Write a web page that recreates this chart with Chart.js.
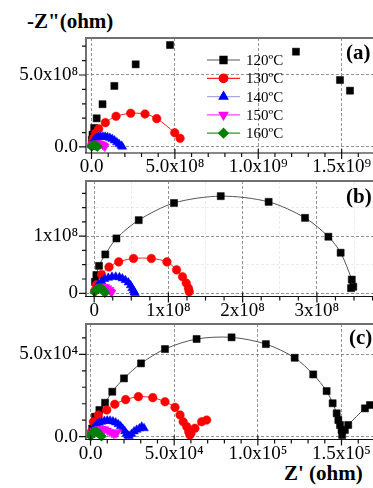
<!DOCTYPE html>
<html>
<head>
<meta charset="utf-8">
<script src="https://cdn.jsdelivr.net/npm/chart.js@4.4.1/dist/chart.umd.min.js"></script>
<style>
html, body { margin: 0; padding: 0; background: #fff; }
body { width: 373px; height: 488px; overflow: hidden; position: relative; font-family: 'Liberation Serif', 'Times New Roman', serif; }
canvas { position: absolute; left: 0; }
.txt { position: absolute; font-weight: bold; color: #000; white-space: nowrap; line-height: 1; }
</style>
</head>
<body>
<div class="txt" style="left:27px;top:11px;font-size:21px;">-Z"(ohm)</div>
<div class="txt" style="left:284px;top:463px;font-size:21px;">Z' (ohm)</div>
<canvas id="chartA" width="410" height="150" style="top:28px"></canvas>
<canvas id="chartB" width="410" height="150" style="top:172px"></canvas>
<canvas id="chartC" width="410" height="150" style="top:316px"></canvas>
<div class="txt" style="left:346px;top:42px;font-size:21px;">(a)</div>
<div class="txt" style="left:346px;top:186px;font-size:21px;">(b)</div>
<div class="txt" style="left:349px;top:327px;font-size:21px;">(c)</div>
<script>
// 시리즈 공통
const SERIES_LABELS = ['120ºC', '130ºC', '140ºC', '150ºC', '160ºC'];

// (a) 단위 1e8 ohm
const a120 = [[0.02,0.50],[0.06,0.85],[0.16,1.32],[0.31,1.99],[0.66,2.97],[1.37,4.24],[2.65,5.74],[4.71,7.08],[12.26,6.62],[14.9,4.65],[15.5,3.91]];
const a130 = [[0.02,0.12],[0.06,0.35],[0.12,0.62],[0.24,0.95],[0.43,1.27],[0.83,1.69],[1.47,2.13],[2.35,2.34],[3.21,2.29],[3.91,1.97],[4.99,0.99],[5.31,0.60]];
const a140 = [[0.02,0.10],[0.06,0.28],[0.12,0.42],[0.2,0.53],[0.3,0.62],[0.42,0.68],[0.55,0.71],[0.68,0.72],[0.82,0.71],[0.96,0.68],[1.1,0.63],[1.24,0.55],[1.38,0.45],[1.52,0.32],[1.65,0.2],[1.78,0.08],[1.85,0.02]];
const a150 = [[0.02,0.05],[0.08,0.14],[0.16,0.2],[0.26,0.24],[0.36,0.25],[0.46,0.24],[0.56,0.21],[0.66,0.15],[0.74,0.08],[0.8,0.02]];
const a160 = [[0.01,0.03],[0.05,0.08],[0.1,0.11],[0.16,0.12],[0.22,0.11],[0.28,0.08],[0.33,0.04],[0.36,0.01]];
const aXTicks = [0,1,2,3,4,5,6,7,8,9,10,11,12,13,14,15,16,17];
const aXMajor = [0, 5, 10, 15];
const aXLabels = ['0.0', '5.0x10⁸', '1.0x10⁹', '1.5x10⁹'];
const aYTicks = [0,1,2,3,4,5,6,7];
const aYMajor = [0, 5];
const aYLabels = ['0.0', '5.0x10⁸'];

// (b) 단위 1e8 ohm
const b120 = [[0.01,0.2],[0.03,0.32],[0.065,0.48],[0.15,0.68],[0.30,0.96],[0.60,1.28],[1.075,1.58],[1.705,1.70],[2.35,1.60],[2.84,1.32],[3.155,0.99],[3.32,0.71],[3.47,0.24],[3.49,0.115],[3.46,0.09]];
const b130 = [[0.01,0.05],[0.03,0.15],[0.1,0.33],[0.2,0.46],[0.33,0.55],[0.53,0.61],[0.77,0.61],[0.98,0.55],[1.11,0.41],[1.19,0.29],[1.24,0.18],[1.27,0.09],[1.28,0.03]];
const b140 = [[0.01,0.04],[0.03,0.1],[0.06,0.16],[0.1,0.21],[0.14,0.25],[0.19,0.27],[0.24,0.29],[0.29,0.29],[0.34,0.28],[0.38,0.26],[0.42,0.23],[0.46,0.19],[0.49,0.14],[0.51,0.09],[0.53,0.05],[0.54,0.02],[0.55,0.005]];
const b150 = [[0.01,0.02],[0.03,0.06],[0.06,0.09],[0.09,0.11],[0.12,0.115],[0.15,0.11],[0.18,0.09],[0.21,0.06],[0.225,0.03],[0.235,0.01]];
const b160 = [[0.005,0.02],[0.02,0.05],[0.04,0.075],[0.065,0.09],[0.09,0.085],[0.11,0.07],[0.13,0.045],[0.14,0.02],[0.145,0.005]];
const bXTicks = [0,0.25,0.5,0.75,1,1.25,1.5,1.75,2,2.25,2.5,2.75,3,3.25,3.5,3.75];
const bXMajor = [0, 1, 2, 3];
const bXLabels = ['0', '1x10⁸', '2x10⁸', '3x10⁸'];
const bYTicks = [0,0.25,0.5,0.75,1,1.25,1.5,1.75];
const bYMajor = [0, 1];
const bYLabels = ['0', '1x10⁸'];

// (c) 단위 1e4 ohm
const c120 = [[0.1,0.5],[0.27,1.21],[0.53,1.62],[0.87,2.06],[1.30,2.73],[2.0,3.54],[3.02,4.45],[4.45,5.32],[6.34,5.93],[8.43,6.03],[10.48,5.62],[12.2,4.79],[13.31,3.78],[14.11,2.77],[14.47,2.03],[14.71,1.42],[14.81,1.01],[14.91,0.71],[15.0,0.41],[15.04,0.1],[15.2,0.41],[15.4,0.71],[16.4,1.72],[16.7,1.92]];
const c130 = [[0.05,0.3],[0.17,0.91],[0.47,1.32],[0.97,1.62],[1.45,1.97],[2.1,2.25],[2.86,2.43],[3.72,2.37],[4.45,2.12],[5.05,1.78],[5.35,1.32],[5.54,0.91],[5.75,0.61],[5.87,0.30],[5.94,0.10],[6.0,0.2],[6.24,0.51],[6.64,0.91],[6.94,1.01]];
const c140 = [[0.02,0.1],[0.08,0.3],[0.16,0.48],[0.26,0.62],[0.38,0.74],[0.52,0.84],[0.67,0.91],[0.83,0.96],[1.0,0.98],[1.17,0.97],[1.34,0.93],[1.5,0.86],[1.66,0.76],[1.8,0.63],[1.93,0.48],[2.05,0.33],[2.15,0.18],[2.24,0.07],[2.3,0.05],[2.45,0.17],[2.6,0.32],[2.76,0.42],[2.92,0.5],[3.06,0.61],[3.2,0.51]];
const c150 = [[0.02,0.05],[0.1,0.2],[0.22,0.33],[0.36,0.42],[0.52,0.47],[0.68,0.48],[0.84,0.45],[1.0,0.38],[1.14,0.3],[1.28,0.22],[1.4,0.17],[1.52,0.2],[1.6,0.27]];
const c160 = [[0.01,0.03],[0.05,0.12],[0.1,0.2],[0.17,0.26],[0.25,0.29],[0.33,0.29],[0.41,0.27],[0.49,0.21],[0.56,0.14],[0.62,0.07],[0.66,0.02]];
const cXTicks = [0,1,2,3,4,5,6,7,8,9,10,11,12,13,14,15,16,17];
const cXMajor = [0, 5, 10, 15];
const cXLabels = ['0.0', '5.0x10⁴', '1.0x10⁵', '1.5x10⁵'];
const cYTicks = [0,1,2,3,4,5,6];
const cYMajor = [0, 5];
const cYLabels = ['0.0', '5.0x10⁴'];

// 스타일
const FONT = "'Liberation Serif', 'Times New Roman', serif";
const MARK_COLORS = ['#000000', '#ff0000', '#0000ff', '#ff00ff', '#008000'];
const LINE_COLORS = ['#555555', '#ff2020', '#a8a8e0', '#ff40ff', '#2a9a2a'];
const POINT_STYLES = ['rect', 'circle', 'triangle', 'triangle', 'rectRot'];
const POINT_ROT = [0, 0, 0, 180, 0];
const POINT_RADII = [5, 4.3, 5, 5, 4.8];

const near = (a, b) => Math.abs(a - b) < 1e-9;
const isMajor = (v, majors) => majors.some(m => near(m, v));
const labelFor = (v, majors, labels) => {
    const i = majors.findIndex(m => near(m, v));
    return i < 0 ? '' : labels[i];
};
function gridColor(v, majors) {
    if (isMajor(v, majors)) return 'rgba(120,120,120,0.8)';
    const step = majors[1] - majors[0];
    const h = v / (step / 2);
    if (Math.abs(h - Math.round(h)) < 1e-6) return 'rgba(0,0,0,0.08)';
    return 'rgba(0,0,0,0)';
}

/**
 * 테두리 + 눈금선
 */
const framePlugin = {
    id: 'frame',
    afterDraw(chart, args, opts) {
        const { ctx, chartArea: a, scales: { x, y } } = chart;
        ctx.save();
        ctx.strokeStyle = '#707070';
        ctx.lineWidth = 2;
        ctx.beginPath();
        ctx.moveTo(a.left, a.bottom);
        ctx.lineTo(a.left, a.top);
        ctx.lineTo(a.right, a.top);
        ctx.lineTo(a.right, a.bottom);
        ctx.stroke();

        ctx.strokeStyle = '#111';
        ctx.lineWidth = 1.2;
        ctx.beginPath();
        ctx.moveTo(a.left - 1, a.bottom);
        ctx.lineTo(a.right, a.bottom);
        y.ticks.forEach(t => {
            const py = y.getPixelForValue(t.value);
            const len = isMajor(t.value, opts.yMajor) ? 7 : 4;
            ctx.moveTo(a.left - len, py);
            ctx.lineTo(a.left, py);
        });
        x.ticks.forEach(t => {
            const px = x.getPixelForValue(t.value);
            if (isMajor(t.value, opts.xMajor)) {
                ctx.moveTo(px, a.bottom - 4);
                ctx.lineTo(px, a.bottom + 6);
            } else {
                ctx.moveTo(px, a.bottom);
                ctx.lineTo(px, a.bottom + 4);
            }
        });
        ctx.stroke();
        ctx.restore();
    }
};

/**
 * 범례 (a 패널 안쪽)
 */
const legendPlugin = {
    id: 'seriesLegend',
    afterDatasetsDraw(chart, args, opts) {
        if (!opts.show) return;
        const ctx = chart.ctx;
        chart.data.datasets.forEach((ds, i) => {
            const yy = opts.y + i * opts.dy;
            ctx.save();
            ctx.strokeStyle = ds.borderColor;
            ctx.lineWidth = 1.2;
            ctx.beginPath();
            ctx.moveTo(opts.x0, yy);
            ctx.lineTo(opts.x1, yy);
            ctx.stroke();
            ctx.fillStyle = ds.pointBackgroundColor;
            ctx.strokeStyle = ds.pointBorderColor;
            Chart.helpers.drawPoint(ctx, {
                pointStyle: ds.pointStyle, rotation: ds.pointRotation,
                radius: ds.pointRadius, borderWidth: 0.5
            }, (opts.x0 + opts.x1) / 2, yy);
            ctx.fillStyle = '#000';
            ctx.font = `15px ${FONT}`;
            ctx.textBaseline = 'middle';
            ctx.fillText(ds.label, opts.tx, yy + 1);
            ctx.restore();
        });
    }
};

function buildPanel(id, p) {
    const datasets = p.series.map((pts, i) => ({
        label: SERIES_LABELS[i],
        data: pts.map(([x, y]) => ({ x, y })),
        showLine: p.lines[i],
        borderColor: LINE_COLORS[i],
        borderWidth: 1,
        tension: 0.3,
        pointStyle: POINT_STYLES[i],
        pointRotation: POINT_ROT[i],
        pointRadius: POINT_RADII[i],
        pointBackgroundColor: MARK_COLORS[i],
        pointBorderColor: MARK_COLORS[i],
        pointBorderWidth: 0.5,
        order: 5 - i,
        clip: false
    }));
    const tickFont = { family: FONT, size: 19 };
    return new Chart(document.getElementById(id), {
        type: 'scatter',
        data: { datasets },
        options: {
            responsive: false,
            animation: false,
            devicePixelRatio: 1,
            layout: { padding: { top: p.padTop, right: 30, left: 0, bottom: 0 } },
            plugins: {
                legend: { display: false },
                tooltip: { enabled: false },
                frame: { xMajor: p.xMajor, yMajor: p.yMajor },
                seriesLegend: p.legend || { show: false }
            },
            scales: {
                x: {
                    type: 'linear', min: p.xMin, max: p.xMax,
                    afterBuildTicks: s => { s.ticks = p.xTicks.map(v => ({ value: v })); },
                    afterFit: s => { s.height = p.xAxisH; s.paddingLeft = 0; s.paddingRight = 0; },
                    grid: { color: c => gridColor(c.tick.value, p.xMajor), drawTicks: false, lineWidth: 1 },
                    border: { display: false, dash: [3, 2] },
                    ticks: {
                        autoSkip: false, maxRotation: 0, padding: 3, color: '#000', font: tickFont,
                        callback: v => labelFor(v, p.xMajor, p.xLabels)
                    }
                },
                y: {
                    type: 'linear', min: p.yMin, max: p.yMax,
                    afterBuildTicks: s => { s.ticks = p.yTicks.map(v => ({ value: v })); },
                    afterFit: s => { s.width = 86; s.paddingTop = 0; s.paddingBottom = 0; },
                    grid: { color: c => gridColor(c.tick.value, p.yMajor), drawTicks: false, lineWidth: 1 },
                    border: { display: false, dash: [3, 2] },
                    ticks: {
                        autoSkip: false, padding: 8, color: '#000', font: tickFont,
                        callback: v => labelFor(v, p.yMajor, p.yLabels)
                    }
                }
            }
        },
        plugins: [framePlugin, legendPlugin]
    });
}

buildPanel('chartA', {
    series: [a120, a130, a140, a150, a160],
    lines: [false, true, true, true, true],
    xMin: -0.33, xMax: 17.3, yMin: -0.42, yMax: 7.57,
    xTicks: aXTicks, xMajor: aXMajor, xLabels: aXLabels,
    yTicks: aYTicks, yMajor: aYMajor, yLabels: aYLabels,
    padTop: 10, xAxisH: 25,
    legend: { show: true, x0: 207, x1: 240, tx: 246, y: 32, dy: 18.3 }
});

buildPanel('chartB', {
    series: [b120, b130, b140, b150, b160],
    lines: [true, true, true, true, true],
    xMin: -0.11, xMax: 3.85, yMin: -0.056, yMax: 1.965,
    xTicks: bXTicks, xMajor: bXMajor, xLabels: bXLabels,
    yTicks: bYTicks, yMajor: bYMajor, yLabels: bYLabels,
    padTop: 9, xAxisH: 25.5
});

buildPanel('chartC', {
    series: [c120, c130, c140, c150, c160],
    lines: [true, true, true, true, true],
    xMin: -0.27, xMax: 17.3, yMin: -0.17, yMax: 6.84,
    xTicks: cXTicks, xMajor: cXMajor, xLabels: cXLabels,
    yTicks: cYTicks, yMajor: cYMajor, yLabels: cYLabels,
    padTop: 8, xAxisH: 26.5
});
</script>
</body>
</html>
